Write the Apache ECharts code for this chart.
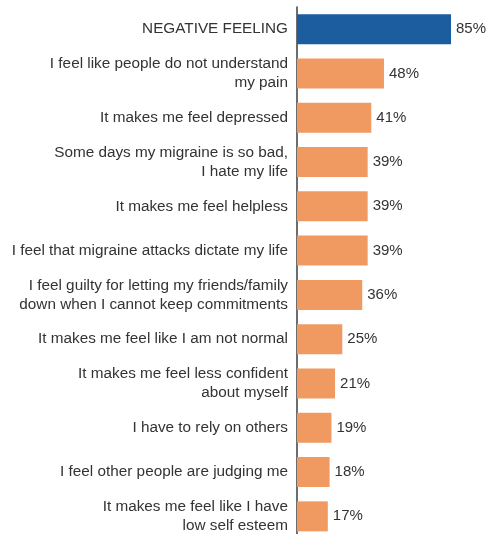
<!DOCTYPE html>
<html>
<head>
<meta charset="utf-8">
<script src="https://cdn.jsdelivr.net/npm/echarts@6/dist/echarts.min.js"></script>
<style>
  html, body { margin: 0; padding: 0; background: #ffffff; overflow: hidden; }
  #chart { width: 488px; height: 542px; }
</style>
</head>
<body>
<div id="chart"></div>
<script>
// Statements about migraine, top to bottom
const categories = [
  'NEGATIVE FEELING',
  'I feel like people do not understand\nmy pain',
  'It makes me feel depressed',
  'Some days my migraine is so bad,\nI hate my life',
  'It makes me feel helpless',
  'I feel that migraine attacks dictate my life',
  'I feel guilty for letting my friends/family\ndown when I cannot keep commitments',
  'It makes me feel like I am not normal',
  'It makes me feel less confident\nabout myself',
  'I have to rely on others',
  'I feel other people are judging me',
  'It makes me feel like I have\nlow self esteem'
];
// Share of respondents agreeing (%)
const values = [85, 48, 41, 39, 39, 39, 36, 25, 21, 19, 18, 17];
// First row is the summary net, drawn in blue
const summaryIndex = 0;

const BLUE = '#1b5d9e';
const ORANGE = '#f09a62';
const TEXT = '#333333';

const chart = echarts.init(document.getElementById('chart'));
chart.setOption({
  animation: false,
  grid: { left: 297, top: 7, width: 181.2, height: 531.5 },
  xAxis: {
    type: 'value', min: 0, max: 100, show: false
  },
  yAxis: {
    type: 'category',
    inverse: true,
    data: categories,
    axisLine: { show: true, lineStyle: { color: '#3c3c3c', width: 1.5 } },
    axisTick: { show: false },
    axisLabel: {
      margin: 9,
      color: TEXT,
      fontFamily: 'Liberation Sans, Arial, sans-serif',
      fontSize: 15.3,
      lineHeight: 19,
      align: 'right'
    }
  },
  series: [{
    type: 'bar',
    barWidth: 30,
    data: values.map((v, i) => ({
      value: v,
      itemStyle: { color: i === summaryIndex ? BLUE : ORANGE }
    })),
    label: {
      show: true,
      position: 'right',
      distance: 5,
      formatter: '{c}%',
      color: TEXT,
      fontFamily: 'Liberation Sans, Arial, sans-serif',
      fontSize: 15
    }
  }]
});
</script>
</body>
</html>
